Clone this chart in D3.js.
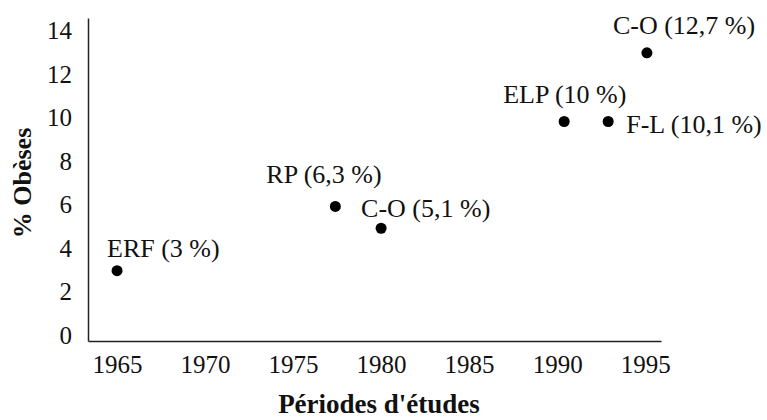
<!DOCTYPE html>
<html>
<head>
<meta charset="utf-8">
<script src="https://cdn.jsdelivr.net/npm/d3@7"></script>
<style>
  html, body { margin: 0; padding: 0; background: #fff; }
  svg { display: block; }
</style>
</head>
<body>
<svg id="chart" width="767" height="420" font-family="Liberation Serif"></svg>
<script>
// ---- data ----
const studies = ["ERF", "RP", "C-O", "ELP", "F-L", "C-O"];
const years = [1965, 1977.4, 1980, 1990.4, 1992.9, 1995.1];
const obesePct = [2.95, 5.9, 4.9, 9.8, 9.8, 12.95];
const pointLabels = ["ERF (3 %)", "RP (6,3 %)", "C-O (5,1 %)", "ELP (10 %)", "F-L (10,1 %)", "C-O (12,7 %)"];
const xTicks = [1965, 1970, 1975, 1980, 1985, 1990, 1995];
const yTicks = [0, 2, 4, 6, 8, 10, 12, 14];
const xTitle = "Périodes d'études";
const yTitle = "% Obèses";

// ---- layout ----
const FONT = "Liberation Serif";
// label placement relative to each point: [dx, dy]
const labelPlacement = [
  [-10, -14],
  [-69, -23],
  [-20, -11],
  [-61, -18],
  [18, 12],
  [-34, -19]
];

const svg = d3.select("#chart");
const x = d3.scaleLinear().domain([1963.35, 1995.9]).range([88, 661]);
const y = d3.scaleLinear().domain([-0.275, 14.55]).range([341, 18]);

// axes
const xAxis = svg.append("g").attr("transform", "translate(0,341)")
  .call(d3.axisBottom(x).tickValues(xTicks).tickFormat(d3.format("d")).tickSize(0).tickPadding(0));
xAxis.attr("font-family", FONT).attr("font-size", 25);
xAxis.select(".domain").attr("stroke", "#222").attr("stroke-width", 1.5);
xAxis.selectAll(".tick text")
  .attr("y", 32).attr("dy", 0)
  .attr("font-family", FONT)
  .attr("font-size", 25).attr("fill", "#111");

const yAxis = svg.append("g").attr("transform", "translate(88,0)")
  .call(d3.axisLeft(y).tickValues(yTicks).tickSize(0).tickPadding(16));
yAxis.attr("font-family", FONT).attr("font-size", 25);
yAxis.select(".domain").attr("stroke", "#222").attr("stroke-width", 1.5);
yAxis.selectAll(".tick text")
  .attr("dy", "0.34em")
  .attr("font-family", FONT)
  .attr("font-size", 25).attr("fill", "#111");

// axis titles
svg.append("text")
  .attr("x", 379).attr("y", 413)
  .attr("text-anchor", "middle")
  .attr("font-family", FONT)
  .attr("font-size", 27).attr("font-weight", "bold").attr("fill", "#111")
  .text(xTitle);

svg.append("text")
  .attr("transform", "translate(31,183) rotate(-90)")
  .attr("text-anchor", "middle")
  .attr("font-family", FONT)
  .attr("font-size", 26).attr("font-weight", "bold").attr("fill", "#111")
  .text(yTitle);

// points
const idx = d3.range(studies.length);
svg.append("g").selectAll("circle").data(idx).join("circle")
  .attr("cx", i => x(years[i]))
  .attr("cy", i => y(obesePct[i]))
  .attr("r", 5.5)
  .attr("fill", "#000");

// labels
svg.append("g").selectAll("text").data(idx).join("text")
  .attr("x", i => x(years[i]) + labelPlacement[i][0])
  .attr("y", i => y(obesePct[i]) + labelPlacement[i][1])
  .attr("font-family", FONT)
  .attr("font-size", 26).attr("fill", "#111")
  .text(i => pointLabels[i]);
</script>
</body>
</html>
